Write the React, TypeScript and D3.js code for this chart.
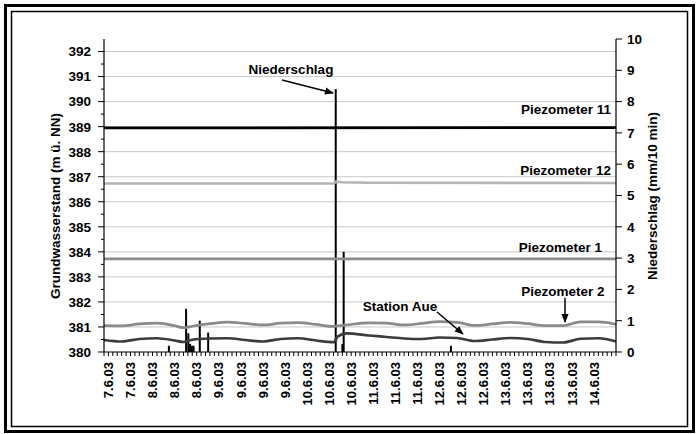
import React from "react";
import * as d3 from "d3";

// time axis: index of the 10-min step (tick marks every step, labels every 5th)
const nSteps = 116;
const dateLabels = [
  "7.6.03", "7.6.03", "8.6.03", "8.6.03", "8.6.03", "9.6.03", "9.6.03", "9.6.03",
  "9.6.03", "10.6.03", "10.6.03", "10.6.03", "11.6.03", "11.6.03", "11.6.03",
  "12.6.03", "12.6.03", "12.6.03", "13.6.03", "13.6.03", "13.6.03", "13.6.03", "14.6.03",
];

// groundwater levels (m ü. NN)
const p11Idx = [0, 116];
const p11Val = [388.95, 388.96];
const p12Idx = [0, 52, 52.6, 54, 60, 116];
const p12Val = [386.73, 386.73, 386.8, 386.78, 386.76, 386.75];
const p1Idx = [0, 116];
const p1Val = [383.72, 383.72];

const waveIdx = [0, 4, 8, 12, 16, 18, 20, 24, 28, 32, 36, 40, 44, 48, 52, 53, 55, 60, 64, 68, 72, 76, 80, 84, 88, 92, 96, 100, 104, 108, 112, 116];
const p2Val = [381.05, 381.04, 381.12, 381.15, 381.05, 380.97, 381.03, 381.13, 381.19, 381.14, 381.08, 381.15, 381.17, 381.1, 381.02, 381.04, 381.08, 381.16, 381.15, 381.08, 381.14, 381.21, 381.18, 381.06, 381.12, 381.18, 381.13, 381.05, 381.05, 381.2, 381.2, 381.11];
const aueVal = [380.48, 380.42, 380.52, 380.55, 380.46, 380.4, 380.49, 380.54, 380.55, 380.48, 380.42, 380.52, 380.55, 380.46, 380.39, 380.62, 380.74, 380.66, 380.6, 380.54, 380.52, 380.58, 380.56, 380.44, 380.5, 380.56, 380.52, 380.4, 380.38, 380.53, 380.55, 380.42];

// precipitation (mm/10 min)
const rainIdx = [14.7, 18.6, 19.1, 19.5, 19.9, 20.3, 21.7, 23.6, 52.5, 54.0, 54.3, 78.6];
const rainVal = [0.2, 1.38, 0.6, 0.26, 0.2, 0.2, 1.0, 0.62, 8.4, 0.25, 3.2, 0.2];

const leftTicks = d3.range(380, 393, 1);
const rightTicks = d3.range(0, 11, 1);

const font = "'Liberation Sans', Arial, sans-serif";
const txt = { fontFamily: font, fontWeight: 700 } as const;

export default function App() {
  const W = 697, H = 434;
  const left = 104, right = 616, top = 39, bottom = 352;

  const x = d3.scaleLinear().domain([0, nSteps]).range([left, right]);
  const y = d3.scaleLinear().domain([380, 392.5]).range([bottom, top]);
  const yR = d3.scaleLinear().domain([0, 10]).range([bottom, top]);

  const mk = (idx: number[], vals: number[], curve = d3.curveLinear) =>
    d3.line<number>()
      .x((_, i) => x(idx[i]))
      .y((d) => y(d))
      .curve(curve)(vals) || "";

  const series = [
    { d: mk(p11Idx, p11Val), c: "#000000" },
    { d: mk(p12Idx, p12Val), c: "#b4b4b4" },
    { d: mk(p1Idx, p1Val), c: "#8c8c8c" },
    { d: mk(waveIdx, p2Val, d3.curveMonotoneX), c: "#8a8a8a" },
    { d: mk(waveIdx, aueVal, d3.curveMonotoneX), c: "#3c3c3c" },
  ];

  const labels = [
    { t: "Piezometer 11", v: 389.68, xe: 611 },
    { t: "Piezometer 12", v: 387.27, xe: 611 },
    { t: "Piezometer 1", v: 384.2, xe: 602 },
  ];

  return (
    <svg width={W} height={H} style={{ position: "absolute", left: 0, top: 0 }}>
      <defs>
        <marker id="ah" viewBox="0 0 10 10" refX="9" refY="5" markerWidth="6" markerHeight="6" orient="auto">
          <path d="M0,1 L10,5 L0,9 Z" fill="#000" />
        </marker>
      </defs>
      <rect x={0} y={0} width={W} height={H} fill="#fff" />
      <rect x={5.5} y={5.5} width={688} height={426} fill="none" stroke="#000" strokeWidth={3} />
      <rect x={11.5} y={11.5} width={676} height={415} fill="none" stroke="#000" strokeWidth={1.5} />

      {/* gridlines */}
      {leftTicks.slice(1).map((v) => (
        <line key={v} x1={left} x2={right} y1={y(v)} y2={y(v)} stroke="#c8c8c8" strokeWidth={1} />
      ))}

      {/* precipitation bars */}
      {rainIdx.map((xi, i) => (
        <rect key={i} x={x(xi) - 1} width={2} y={yR(rainVal[i])} height={yR(0) - yR(rainVal[i])} fill="#000" />
      ))}

      {/* groundwater lines */}
      {series.map((s, i) => (
        <path key={i} d={s.d} fill="none" stroke={s.c} strokeWidth={2.7} />
      ))}

      {/* left axis */}
      <line x1={left} x2={left} y1={top} y2={bottom} stroke="#000" strokeWidth={1.2} />
      {leftTicks.map((v) => (
        <g key={v}>
          <line x1={left - 6} x2={left} y1={y(v)} y2={y(v)} stroke="#000" />
          {v < 392 && <line x1={left - 3} x2={left} y1={y(v + 0.5)} y2={y(v + 0.5)} stroke="#000" />}
          <text x={91} y={y(v)} dy="0.36em" textAnchor="end" fontSize={13.5} style={txt}>{v}</text>
        </g>
      ))}
      <text transform={`translate(60,${206}) rotate(-90)`} textAnchor="middle" fontSize={13.5} style={txt}>
        Grundwasserstand (m ü. NN)
      </text>

      {/* right axis */}
      <line x1={right} x2={right} y1={top} y2={bottom} stroke="#000" strokeWidth={1.2} />
      {rightTicks.map((v) => (
        <g key={v}>
          <line x1={right} x2={right + 6} y1={yR(v)} y2={yR(v)} stroke="#000" />
          <text x={627} y={yR(v)} dy="0.36em" textAnchor="start" fontSize={13.5} style={txt}>{v}</text>
        </g>
      ))}
      <text transform={`translate(657,196) rotate(-90)`} textAnchor="middle" fontSize={13.5} style={txt}>
        Niederschlag (mm/10 min)
      </text>

      {/* x axis */}
      <line x1={left} x2={right} y1={bottom} y2={bottom} stroke="#000" strokeWidth={1.2} />
      {d3.range(0, nSteps + 1).map((i) => (
        <line key={i} x1={x(i)} x2={x(i)} y1={bottom} y2={bottom + 4} stroke="#000" />
      ))}
      {dateLabels.map((t, i) => (
        <text key={i} transform={`translate(${x(1 + i * 5)},362) rotate(-90)`} dy="0.36em" textAnchor="end" fontSize={13} style={txt}>
          {t}
        </text>
      ))}

      {/* annotations */}
      {labels.map((l) => (
        <text key={l.t} x={l.xe} y={y(l.v)} dy="0.36em" textAnchor="end" fontSize={13.5} style={txt}>{l.t}</text>
      ))}
      <text x={563} y={291} dy="0.36em" textAnchor="middle" fontSize={13.5} style={txt}>Piezometer 2</text>
      <line x1={565} x2={565} y1={298} y2={322} stroke="#000" strokeWidth={1.5} markerEnd="url(#ah)" />
      <text x={400} y={306} dy="0.36em" textAnchor="middle" fontSize={13.5} style={txt}>Station Aue</text>
      <line x1={437} x2={463} y1={312} y2={334} stroke="#000" strokeWidth={1.5} markerEnd="url(#ah)" />
      <text x={291} y={69} dy="0.36em" textAnchor="middle" fontSize={13.5} style={txt}>Niederschlag</text>
      <line x1={282} x2={333} y1={80} y2={93} stroke="#000" strokeWidth={1.5} markerEnd="url(#ah)" />
    </svg>
  );
}
